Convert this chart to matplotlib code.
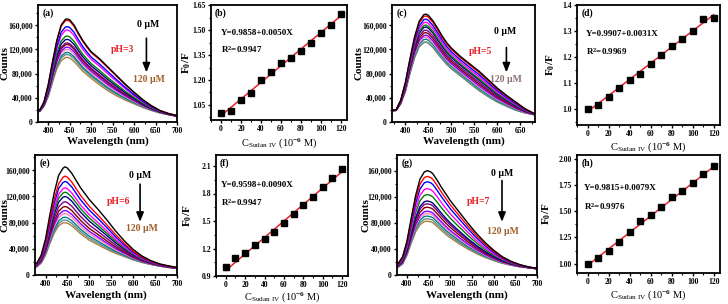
import matplotlib
matplotlib.use('Agg')
import matplotlib.pyplot as plt
from matplotlib.ticker import FuncFormatter, AutoMinorLocator
import numpy as np

plt.rcParams['font.family'] = ['Liberation Serif', 'DejaVu Serif']
plt.rcParams['font.weight'] = 'bold'
plt.rcParams['mathtext.fontset'] = 'custom'
plt.rcParams['mathtext.rm'] = 'Liberation Serif:bold'
plt.rcParams['mathtext.bf'] = 'Liberation Serif:bold'
plt.rcParams['mathtext.it'] = 'Liberation Serif:bold'

# concentrations of Sudan IV (10^-6 M)
conc = [0, 10, 20, 30, 40, 50, 60, 70, 80, 90, 100, 110, 120]

ratio_ph3 = [1.000, 1.013, 1.081, 1.121, 1.200, 1.247, 1.304, 1.329, 1.376, 1.420, 1.481, 1.528, 1.595]
ratio_ph5 = [1.000, 1.017, 1.049, 1.081, 1.113, 1.136, 1.174, 1.207, 1.242, 1.270, 1.302, 1.347, 1.351]
ratio_ph6 = [1.000, 1.094, 1.156, 1.240, 1.306, 1.379, 1.478, 1.580, 1.679, 1.763, 1.873, 1.972, 2.070]
ratio_ph7 = [1.000, 1.058, 1.119, 1.208, 1.298, 1.410, 1.465, 1.538, 1.635, 1.696, 1.769, 1.856, 1.939]

fit_intercept = [0.9858, 0.9907, 0.9598, 0.9815]
fit_slope = [0.0050, 0.0031, 0.0090, 0.0079]
fit_r2 = ['0.9947', '0.9969', '0.9947', '0.9976']

# peak counts of each spectrum (0 -> 120 uM)
peaks_ph3 = [170000, 167800, 157300, 151700, 141700, 136300, 130400, 127900, 123500, 119700, 114800, 111300, 106600]
peaks_ph5 = [178000, 175000, 169700, 164700, 159900, 156700, 151600, 147500, 143300, 140200, 136700, 132100, 131800]
peaks_ph6 = [165000, 150800, 142700, 133100, 126300, 119700, 111600, 104400, 98300, 93600, 88100, 83700, 79700]
peaks_ph7 = [160000, 151200, 143000, 132500, 123300, 113500, 109200, 104000, 97900, 94300, 90400, 86200, 82500]

# first (0 uM) and last (120 uM) spectra
wl_a = [376, 380, 390, 400, 410, 420, 430, 440, 445, 450, 460, 470, 480, 490, 500, 520, 540, 560, 580, 600, 620, 640, 660, 680, 700]
top_a = [20000, 19500, 33000, 62000, 100000, 135000, 160000, 169500, 170000, 168500, 160000, 147000, 135000, 125000, 116000, 104000, 90000, 76000, 62000, 49000, 37000, 27000, 19000, 14000, 10500]
bot_a = [17000, 17500, 26000, 42000, 66000, 88000, 101000, 106300, 106600, 105500, 100000, 92000, 84000, 78000, 72000, 61000, 51000, 43000, 36000, 30000, 24000, 19000, 15000, 12000, 9500]

wl_c = [372, 380, 390, 400, 410, 420, 430, 440, 445, 450, 460, 470, 480, 490, 500, 520, 540, 560, 580, 600, 620, 640, 660, 680]
top_c = [19500, 20000, 36000, 65000, 104000, 140000, 166000, 177000, 178000, 176000, 167000, 155000, 142000, 131000, 122000, 108000, 96000, 84000, 70000, 56000, 44000, 33000, 22000, 14000]
bot_c = [18500, 19000, 30000, 50000, 80000, 106000, 124000, 131000, 131800, 130000, 123000, 113000, 104000, 95000, 88000, 76000, 64000, 52000, 42000, 33000, 26000, 19500, 15000, 12000]

wl_e = [376, 380, 390, 400, 410, 420, 430, 440, 445, 450, 460, 470, 480, 490, 500, 520, 540, 560, 580, 600, 620, 640, 660, 680, 700]
top_e = [17000, 18000, 30000, 55000, 92000, 126000, 152000, 163000, 165000, 163000, 155000, 144000, 133000, 124000, 115000, 100000, 84000, 67000, 52000, 39000, 29000, 22000, 17000, 14000, 11500]
bot_e = [12000, 12500, 18000, 30000, 48000, 64000, 75000, 79500, 79700, 79000, 75000, 69000, 63000, 58000, 53000, 46000, 39000, 33000, 28000, 23000, 19000, 16000, 13500, 11500, 10000]

wl_g = [377, 380, 390, 400, 410, 420, 430, 440, 447, 455, 460, 470, 480, 490, 500, 520, 540, 560, 580, 600, 620, 640, 660, 680, 700]
top_g = [19000, 18000, 28000, 52000, 88000, 122000, 147000, 158000, 160000, 158000, 155000, 145000, 134000, 124000, 114000, 97000, 80000, 64000, 50000, 38000, 28000, 21000, 16000, 12500, 10000]
bot_g = [12000, 12000, 17000, 30000, 49000, 66000, 77000, 82000, 82500, 81500, 80000, 74000, 68000, 62000, 57000, 48000, 40000, 33000, 27000, 22000, 18000, 15000, 12500, 11000, 9500]

line_colors = ['black', 'red', 'blue', '#FF00FF', '#008000', '#000080', '#800080',
               '#800000', '#8000FF', '#FF80C0', '#008080', '#5F8F8F', '#B08040']

W, H = 728, 304
fig = plt.figure(figsize=(W / 100, H / 100), dpi=100)


def box(l, r, t, b):
    return [l / W, (H - b) / H, (r - l) / W, (b - t) / H]


def style(ax):
    for s in ax.spines.values():
        s.set_linewidth(1.3)
    ax.tick_params(direction='out', length=2.5, width=1, labelsize=5.5, pad=1.2)
    ax.tick_params(which='minor', direction='out', length=1.5, width=0.8)
    ax.xaxis.set_minor_locator(AutoMinorLocator(2))
    ax.yaxis.set_minor_locator(AutoMinorLocator(2))
    for lab in ax.get_xticklabels() + ax.get_yticklabels():
        lab.set_fontweight('bold')


def spectra(pos, wl, top, bot, peaks, xlim, xticks, ylim, letter, ph, txt, brown, labx, laby):
    ax = fig.add_axes(pos)
    wl = np.array(wl)
    top = np.array(top, dtype=float)
    bot = np.array(bot, dtype=float)
    # draw lowest concentration last so black sits on top
    for i in range(len(peaks) - 1, -1, -1):
        t = (peaks[i] - peaks[-1]) / (peaks[0] - peaks[-1])
        ax.plot(wl, bot + (top - bot) * t, color=line_colors[i], lw=1.0)
    ax.set_xlim(*xlim)
    ax.set_ylim(*ylim)
    ax.set_xticks(xticks)
    ax.set_yticks([0, 40000, 80000, 120000, 160000])
    ax.yaxis.set_major_formatter(FuncFormatter(lambda v, p: f'{int(v):,}'))
    ax.set_xlabel('Wavelength (nm)', fontsize=8, fontweight='bold')
    ax.set_ylabel('Counts', fontsize=8, fontweight='bold')
    ax.yaxis.set_label_coords(labx, 0.5)
    ax.xaxis.set_label_coords(0.5, laby)
    style(ax)
    ax.text(0.03, 0.97, letter, transform=ax.transAxes, ha='left', va='top', fontsize=7, fontweight='bold')
    x0, y0, xa, ya0, ya1, xp, yp, y120 = txt
    ax.text(x0, y0, '0 μM', transform=ax.transAxes, ha='center', va='center', fontsize=7, fontweight='bold')
    ax.annotate('', xy=(xa, ya1), xytext=(xa, ya0), xycoords='axes fraction',
                arrowprops=dict(arrowstyle='-|>,head_width=0.22,head_length=0.55', color='black', lw=1.2))
    ax.text(xp, yp, ph, transform=ax.transAxes, ha='center', va='center', fontsize=7, fontweight='bold', color='#E8202A')
    ax.text(x0 + 0.01, y120, '120 μM', transform=ax.transAxes, ha='center', va='center', fontsize=7,
            fontweight='bold', color=brown)
    return ax


def linear(pos, ratio, k, ylim, yticks, yfmt, letter, tpos, labx, laby):
    ax = fig.add_axes(pos)
    xs = np.array([0, 120])
    ax.plot(xs, fit_intercept[k] + fit_slope[k] * xs, color='#E8202A', lw=1.1, zorder=2)
    ax.plot(conc, ratio, 's', color='black', ms=3.8, zorder=3)
    ax.set_xlim(-10, 126)
    ax.set_ylim(*ylim)
    ax.set_xticks([0, 20, 40, 60, 80, 100, 120])
    ax.set_yticks(yticks)
    ax.yaxis.set_major_formatter(FuncFormatter(lambda v, p: yfmt.format(v)))
    ax.set_xlabel(r'C$_{\mathregular{Sudan\ IV}}$ (10$^{-6}$ M)', fontsize=7.5, fontweight='normal')
    ax.set_ylabel(r'F$_0$/F', fontsize=8, fontweight='bold')
    ax.yaxis.set_label_coords(labx, 0.5)
    ax.xaxis.set_label_coords(0.5, laby)
    style(ax)
    ax.text(0.03, 0.97, letter, transform=ax.transAxes, ha='left', va='top', fontsize=7, fontweight='bold')
    ax.text(tpos[0], tpos[1], f'Y={fit_intercept[k]:.4f}+{fit_slope[k]:.4f}X', transform=ax.transAxes,
            ha='left', va='center', fontsize=6.5, fontweight='bold')
    ax.text(tpos[0], tpos[2], f'R$^2$={fit_r2[k]}', transform=ax.transAxes,
            ha='left', va='center', fontsize=6.5, fontweight='bold')
    return ax


xt_full = [400, 450, 500, 550, 600, 650, 700]

spectra(box(38, 177, 5, 122), wl_a, top_a, bot_a, peaks_ph3, (376, 700), xt_full, (0, 193000), '(a)', 'pH=3',
        (0.79, 0.83, 0.78, 0.74, 0.40, 0.61, 0.62, 0.36), '#A0602A', -0.205, -0.125)
linear(box(211, 347, 5, 120), ratio_ph3, 0, (0.96, 1.65), [1.05, 1.20, 1.35, 1.50, 1.65], '{:.2f}', '(b)',
       (0.07, 0.76, 0.61), -0.13, -0.14)
spectra(box(392, 535, 5, 122), wl_c, top_c, bot_c, peaks_ph5, (371, 682), [400, 450, 500, 550, 600, 650],
        (0, 193000), '(c)', 'pH=5', (0.79, 0.77, 0.80, 0.66, 0.40, 0.62, 0.60, 0.36), '#8F7070', -0.2, -0.125)
linear(box(577, 720, 5, 125), ratio_ph5, 1, (0.94, 1.40), [1.0, 1.1, 1.2, 1.3, 1.4], '{:.1f}', '(d)',
       (0.06, 0.76, 0.61), -0.14, -0.125)
spectra(box(35, 177, 155, 275), wl_e, top_e, bot_e, peaks_ph6, (376, 700), xt_full, (0, 183000), '(e)', 'pH=6',
        (0.74, 0.83, 0.74, 0.78, 0.42, 0.59, 0.61, 0.39), '#A0602A', -0.18, -0.125)
linear(box(216, 348, 155, 276), ratio_ph6, 2, (0.9, 2.22), [0.9, 1.2, 1.5, 1.8, 2.1], '{:.1f}', '(f)',
       (0.04, 0.75, 0.61), -0.167, -0.12)
spectra(box(397, 537, 155, 275), wl_g, top_g, bot_g, peaks_ph7, (377, 700), xt_full, (0, 184000), '(g)', 'pH=7',
        (0.75, 0.85, 0.75, 0.81, 0.42, 0.58, 0.61, 0.36), '#A0602A', -0.19, -0.125)
linear(box(577, 720, 155, 273), ratio_ph7, 3, (0.91, 2.04), [1.00, 1.25, 1.50, 1.75, 2.00], '{:.2f}', '(h)',
       (0.05, 0.72, 0.56), -0.168, -0.125)

fig.savefig('out.png', dpi=100)
